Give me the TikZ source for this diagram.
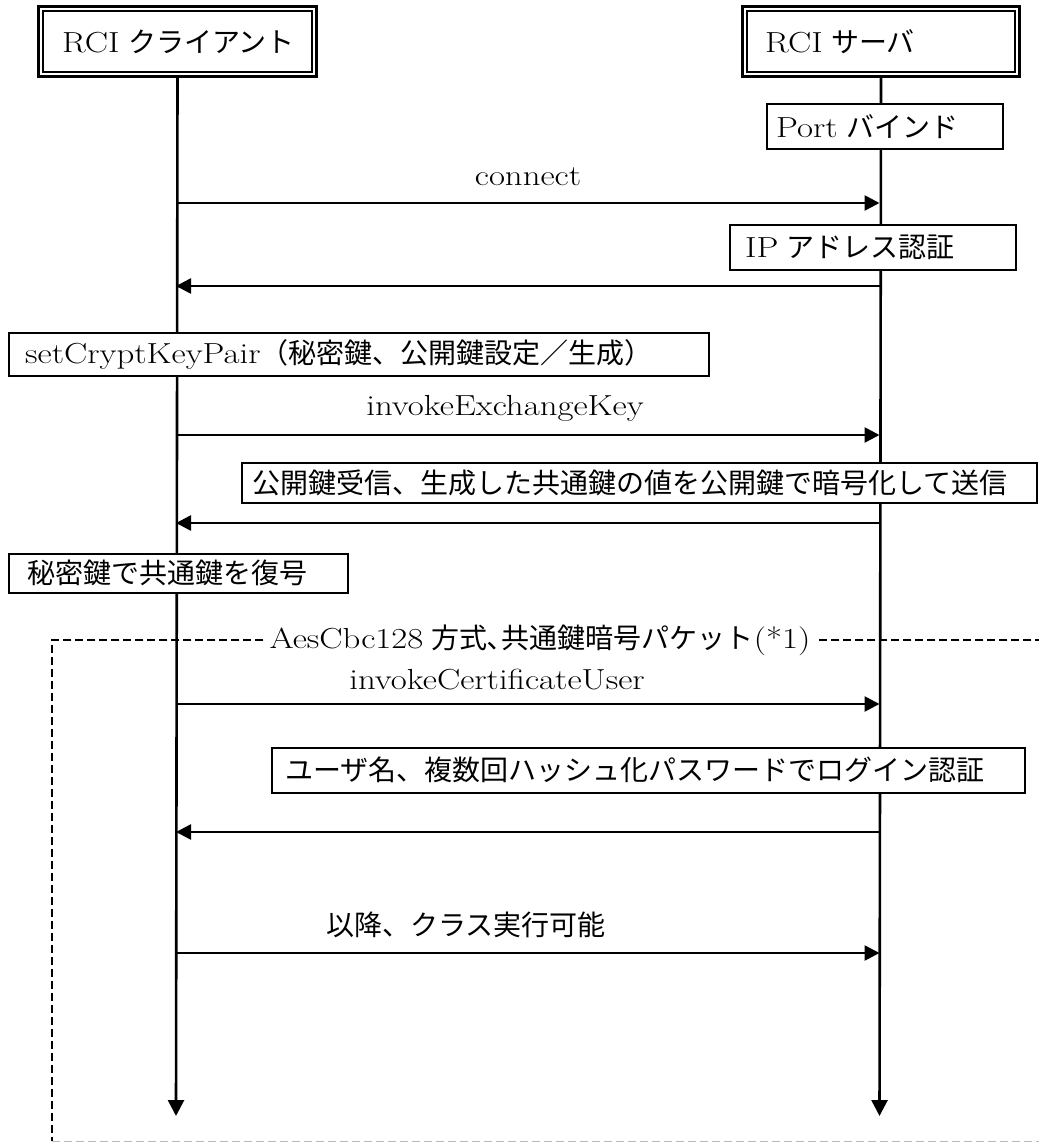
\documentclass[tikz,border=0pt]{standalone}
\usepackage{fontspec}
\usepackage{graphicx}
\usetikzlibrary{arrows.meta}
\newfontfamily\jpfont{Noto Sans CJK JP}
\newcommand\J[1]{{\jpfont #1}}
\newcommand\E[1]{\scalebox{1.2}[1]{\fontsize{29}{32}\selectfont #1}}
\begin{document}
\begin{tikzpicture}[x=1pt,y=-1pt,
  font=\fontsize{28}{32}\selectfont,
  lifeline/.style={line width=2.6pt, -{Triangle[length=16pt,width=16pt]}},
  msg/.style={line width=2.6pt, -{Triangle[length=15pt,width=15pt]}},
  hdr/.style={draw, line width=3pt, fill=white, anchor=north west, inner sep=0pt},
  pbox/.style={draw, line width=1.6pt, fill=white, anchor=north west, inner sep=0pt},
  btext/.style={anchor=west, inner sep=0pt},
  mlabel/.style={inner sep=0pt},
  frame/.style={line width=1.6pt, dash pattern=on 8pt off 4pt}
]
\useasboundingbox (0,0) rectangle (1038,1142);
\fill[white] (0,0) rectangle (1038,1142);

% dashed frame
\coordinate (ftl) at (52,640);
\coordinate (fbl) at (52,1141.4);
\coordinate (fbr) at (1070,1141.4);
\coordinate (ftr) at (1070,640);
\draw[frame] (fbr) -- (ftr) -- (ftl) -- (fbl);
\draw[frame, gray!55] (fbl) -- (fbr);
\node[fill=white, inner xsep=6pt, inner ysep=2pt] (flabel) at (540,640) {\E{AesCbc128} \J{方式､共通鍵暗号パケット}\E{(*1)}};

% headers
\node[hdr, minimum width=278pt, minimum height=70pt] (hc) at (37,5) {};
\draw[line width=1.8pt] ([shift={(6pt,-6pt)}]hc.north west) rectangle ([shift={(-6pt,6pt)}]hc.south east);
\node[btext] (hct) at ([xshift=25pt]hc.west) {\E{RCI} \J{クライアント}};
\node[hdr, minimum width=277pt, minimum height=70pt] (hs) at (741,5) {};
\draw[line width=1.8pt] ([shift={(6pt,-6pt)}]hs.north west) rectangle ([shift={(-6pt,6pt)}]hs.south east);
\node[btext] (hst) at ([xshift=24pt]hs.west) {\E{RCI} \J{サーバ}};

% lifelines
\coordinate (cend) at (176,1116);
\coordinate (send) at (879.5,1116);
\draw[lifeline] (hc.south) -- (cend);
\draw[lifeline] (hs.south) -- (send);

% process boxes
\node[pbox, minimum width=236pt, minimum height=45pt] (b1) at (766,103) {};
\node[btext] (b1t) at ([xshift=10pt]b1.west) {\E{Port} \J{バインド}};

\node[pbox, minimum width=286pt, minimum height=45pt] (b2) at (729,224) {};
\node[btext] (b2t) at ([xshift=16pt]b2.west) {\E{IP} \J{アドレス認証}};

\node[pbox, minimum width=700pt, minimum height=43pt] (b3) at (8,332) {};
\node[btext] (b3t) at ([xshift=17pt]b3.west) {\E{setCryptKeyPair}\J{（秘密鍵、公開鍵設定／生成）}};

\node[pbox, minimum width=795pt, minimum height=40pt] (b4) at (241,462) {};
\node[btext] (b4t) at ([xshift=11pt]b4.west) {\J{公開鍵受信、生成した共通鍵の値を公開鍵で暗号化して送信}};

\node[pbox, minimum width=339pt, minimum height=39pt] (b5) at (8,553) {};
\node[btext] (b5t) at ([xshift=19pt]b5.west) {\J{秘密鍵で共通鍵を復号}};

\node[pbox, minimum width=753pt, minimum height=45pt] (b6) at (271,747) {};
\node[btext] (b6t) at ([xshift=14pt]b6.west) {\J{ユーザ名、複数回ハッシュ化パスワードでログイン認証}};

% message anchor points
\coordinate (c1) at (176,203);   \coordinate (s1) at (879.5,203);
\coordinate (c2) at (176,286);   \coordinate (s2) at (879.5,286);
\coordinate (c3) at (176,435);   \coordinate (s3) at (879.5,435);
\coordinate (c4) at (176,523);   \coordinate (s4) at (879.5,523);
\coordinate (c5) at (176,704);   \coordinate (s5) at (879.5,704);
\coordinate (c6) at (176,832);   \coordinate (s6) at (879.5,832);
\coordinate (c7) at (176,953);   \coordinate (s7) at (879.5,953);

\draw[msg] (c1) -- (s1);
\draw[msg] (s2) -- (c2);
\draw[msg] (c3) -- (s3);
\draw[msg] (s4) -- (c4);
\draw[msg] (c5) -- (s5);
\draw[msg] (s6) -- (c6);
\draw[msg] (c7) -- (s7);

\node[mlabel] (m1) at (528,177) {\E{connect}};
\node[mlabel] (m3) at (505,408) {\E{invokeExchangeKey}};
\node[mlabel] (m5) at (497,680) {\E{invokeCertificateUser}};
\node[mlabel] (m7) at (466,925) {\J{以降、クラス実行可能}};
\end{tikzpicture}
\end{document}
